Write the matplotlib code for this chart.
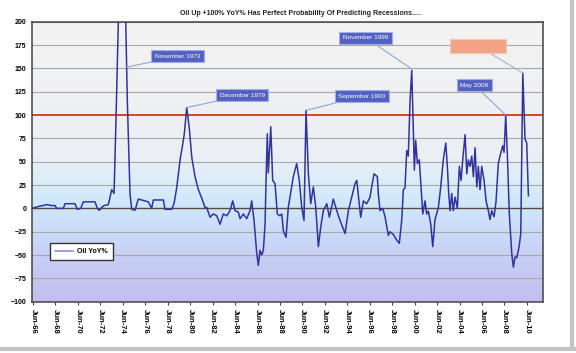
import matplotlib
matplotlib.use("Agg")
import matplotlib.pyplot as plt
import numpy as np
from matplotlib.colors import LinearSegmentedColormap
from matplotlib.lines import Line2D

plt.rcParams['font.family'] = ['Liberation Sans', 'DejaVu Sans']

# --- data (decimal year, oil price YoY %) ---
years = [
    1966.53, 1966.97, 1967.72, 1968.17, 1968.46, 1968.61, 1969.20, 1969.35, 1970.24, 1970.45,
    1970.75, 1970.98, 1972.02, 1972.23, 1972.41, 1972.62, 1972.83, 1973.21, 1973.51, 1973.72,
    1973.89, 1974.10, 1974.25, 1974.56, 1974.76, 1974.90, 1975.14, 1975.29, 1975.59, 1975.88,
    1976.48, 1976.77, 1977.07, 1977.22, 1978.11, 1978.26, 1978.86, 1979.06, 1979.30, 1979.60,
    1979.84, 1979.98, 1980.19, 1980.42, 1980.64, 1980.93, 1981.23, 1981.53, 1981.82, 1981.97,
    1982.27, 1982.56, 1982.87, 1983.16, 1983.45, 1983.76, 1984.05, 1984.29, 1984.50, 1984.79,
    1984.94, 1985.24, 1985.54, 1985.83, 1985.98, 1986.19, 1986.43, 1986.57, 1986.72, 1986.87,
    1987.02, 1987.17, 1987.26, 1987.37, 1987.46, 1987.68, 1987.85, 1988.06, 1988.26, 1988.50,
    1988.66, 1988.80, 1989.04, 1989.24, 1989.48, 1989.69, 1989.99, 1990.22, 1990.44, 1990.64,
    1990.82, 1991.03, 1991.24, 1991.47, 1991.69, 1991.92, 1992.13, 1992.36, 1992.67, 1992.90,
    1993.25, 1993.56, 1993.85, 1994.30, 1994.59, 1994.89, 1995.19, 1995.34, 1995.69, 1995.93,
    1996.23, 1996.52, 1996.67, 1996.88, 1997.17, 1997.26, 1997.41, 1997.65, 1997.86, 1998.15,
    1998.30, 1998.60, 1998.90, 1999.13, 1999.35, 1999.49, 1999.64, 1999.79, 1999.93, 2000.09,
    2000.24, 2000.38, 2000.47, 2000.59, 2000.74, 2000.91, 2001.04, 2001.22, 2001.42, 2001.57,
    2001.72, 2001.93, 2002.11, 2002.31, 2002.61, 2002.82, 2003.05, 2003.27, 2003.41, 2003.53,
    2003.65, 2003.80, 2003.94, 2004.10, 2004.30, 2004.48, 2004.63, 2004.78, 2004.99, 2005.14,
    2005.28, 2005.43, 2005.58, 2005.73, 2005.88, 2006.03, 2006.17, 2006.32, 2006.47, 2006.68,
    2006.86, 2007.06, 2007.21, 2007.36, 2007.57, 2007.75, 2007.95, 2008.10, 2008.34, 2008.46,
    2008.61, 2008.75, 2008.93, 2009.15, 2009.29, 2009.44, 2009.59, 2009.80, 2009.95, 2010.13,
    2010.33, 2010.48, 2010.63,
]
oil_yoy = [
    0.5, 2, 4, 3, 3, 0, 0, 5, 5, -1,
    0, 7, 7, 0, -2, 1, 3, 4, 20, 16,
    94, 200, 250, 250, 200, 116, 16, -1, -2, 10,
    8, 7, 0, 9, 9, -1, -1, 5, 22, 52,
    69, 80, 108, 86, 55, 34, 20, 11, 1, 1,
    -9.5, -6, -8, -17, -6, -8, -2.5, 8, -2.5, -4,
    -11, -6, -11, -2.5, 8, -13, -48, -61, -45, -50,
    -45, -17, 30, 80, 38, 87.5, 30, 26.5, -6, -8,
    -6, -24, -31, 1, 19, 34, 48, 30, 1, -13,
    105, 37, 5, 23, 1, -41, -20, -2.5, 5, -9.5,
    10, -2.5, -13, -27, -2.5, 12, 26.5, 30, -9.5, 8,
    5, 12, 23, 37, 34, 16, -2.5, 0, -9, -29,
    -25, -28, -34, -37.5, -12, 20, 22, 62, 56, 116,
    148, 80, 41, 73, 48, 52, 27, -6, 8, -6,
    -3, -17, -41, -12, 1, 23, 52, 70, 45, 16,
    -2.5, 16, -2.5, 12, 0, 45, 30, 52, 79, 37,
    52, 45, 56, 34, 65, 23, 45, 20, 45, 30,
    8, -2.5, -12, -2.5, -9, 8, 48, 56, 67, 60,
    100, 59, -6, -49, -63, -52, -53, -41, -27, 145,
    74, 70, 13.5,
]

tick_years = [1966.5, 1968.5, 1970.5, 1972.5, 1974.5, 1976.5, 1978.5, 1980.5, 1982.5, 1984.5,
              1986.5, 1988.5, 1990.5, 1992.5, 1994.5, 1996.5, 1998.5, 2000.5, 2002.5, 2004.5,
              2006.5, 2008.5, 2010.5]
tick_labels = ['Jun-66', 'Jun-68', 'Jun-70', 'Jun-72', 'Jun-74', 'Jun-76', 'Jun-78', 'Jun-80',
               'Jun-82', 'Jun-84', 'Jun-86', 'Jun-88', 'Jun-90', 'Jun-92', 'Jun-94', 'Jun-96',
               'Jun-98', 'Jun-00', 'Jun-02', 'Jun-04', 'Jun-06', 'Jun-08', 'Jun-10']

# callouts: label, peak it points at (year, value)
callout_labels = ['November 1973', 'December 1979', 'September 1990', 'November 1999', 'May 2008']
callout_peaks = [(1974.76, 151), (1980.19, 108), (1990.82, 105), (2000.15, 150), (2008.61, 100)]
# box centres (layout only)
callout_boxes = [(1979.37, 163), (1985.16, 121), (1995.78, 120), (1996.12, 183), (2005.83, 132)]

XMIN, XMAX = 1966.41, 2011.93

fig = plt.figure(figsize=(5.76, 3.53), dpi=100)
ax = fig.add_axes([32 / 576, 1 - 301.7 / 353, 511 / 576, 280 / 353])

# gradient background of the plot area
bg = LinearSegmentedColormap.from_list('bg', [
    (0.00, '#c2bef1'), (0.12, '#c6caf4'), (0.30, '#cde2f9'), (0.37, '#d0eafc'),
    (0.43, '#dcedf8'), (0.52, '#eaeff5'), (0.70, '#eff0f2'), (1.00, '#f3f3f3')])
grad = np.linspace(0, 1, 256).reshape(-1, 1)
ax.imshow(grad, cmap=bg, aspect='auto', origin='lower',
          extent=[XMIN, XMAX, -100, 200], zorder=0)

for yv in range(-75, 201, 25):
    if yv in (0, 100):
        continue
    ax.axhline(yv, color='#a8a8a8', lw=0.8, zorder=1)
ax.axhline(0, color='#5a4a42', lw=1.0, zorder=2)
ax.axhline(100, color='#cc3a1e', lw=1.3, zorder=2)

ax.plot(years, oil_yoy, color='#33339c', lw=1.1, zorder=3, label='Oil YoY%')

ax.set_xlim(XMIN, XMAX)
ax.set_ylim(-100, 200)
ax.set_yticks(range(-100, 201, 25))
ax.set_xticks(tick_years)
ax.set_xticklabels(tick_labels, rotation=-90, fontsize=5.5, fontweight='bold')
ax.tick_params(axis='y', labelsize=5, length=0, pad=4)
ax.tick_params(axis='x', length=2, pad=3, color='#444444')
for lab in ax.get_yticklabels():
    lab.set_fontweight('bold')
for sp in ax.spines.values():
    sp.set_color('#444444')
    sp.set_linewidth(1.1)

# callout boxes
for label, peak, box in zip(callout_labels, callout_peaks, callout_boxes):
    ax.annotate(label, xy=peak, xytext=box, ha='center', va='center',
                fontsize=4.6, color='white', zorder=5,
                bbox=dict(boxstyle='square,pad=0.55', fc='#5461c2', ec='#9fb0e6', lw=0.8),
                arrowprops=dict(arrowstyle='-', color='#8ea6d8', lw=0.8,
                                shrinkA=0, shrinkB=0))
ax.annotate('                          ', xy=(2010.13, 145), xytext=(2006.14, 174),
            ha='center', va='center', fontsize=4.6, zorder=5,
            bbox=dict(boxstyle='square,pad=0.75', fc='#f4a486', ec='#f0c8b8', lw=0.8),
            arrowprops=dict(arrowstyle='-', color='#a8b4cc', lw=0.8, shrinkA=0, shrinkB=0))

leg = ax.legend(loc='lower left', bbox_to_anchor=(0.029, 0.137), fontsize=5,
                frameon=True, fancybox=False, edgecolor='#333333', handlelength=2.6,
                borderpad=0.7, handletextpad=0.6)
leg.get_frame().set_linewidth(1.0)
leg.get_frame().set_facecolor('white')
leg.get_frame().set_alpha(1)
for t in leg.get_texts():
    t.set_fontweight('bold')
leg.get_lines()[0].set_color('#8585d6')

fig.text(301 / 576, 1 - 13.6 / 353, 'Oil Up +100% YoY% Has Perfect Probability Of Predicting Recessions.....',
         ha='center', va='center', fontsize=5, fontweight='bold', color='#222222')

# outer frame strips of the screenshot
fig.add_artist(Line2D([572 / 576, 572 / 576], [1 - 348 / 353, 1], transform=fig.transFigure,
                      color='#c4c4c4', lw=3))
fig.add_artist(Line2D([0, 574 / 576], [1 - 349 / 353, 1 - 349 / 353], transform=fig.transFigure,
                      color='#c4c4c4', lw=3))

fig.savefig('out.png', dpi=100)
